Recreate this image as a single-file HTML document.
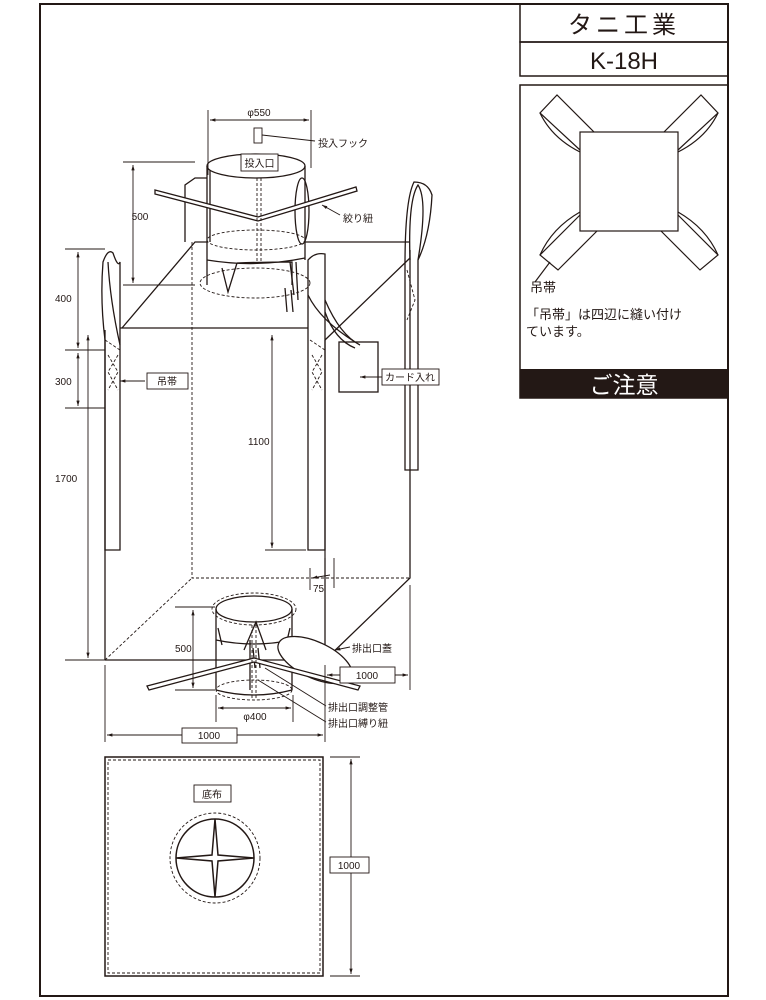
<!DOCTYPE html>
<html><head><meta charset="utf-8"><style>
html,body{margin:0;padding:0;background:#fff}
svg{display:block}
text{font-family:"Liberation Sans","Noto Sans CJK JP",sans-serif;fill:#231815}
</style></head><body>
<svg width="766" height="1000" viewBox="0 0 766 1000" xmlns="http://www.w3.org/2000/svg">
<defs>
<marker id="a" viewBox="0 0 10 10" refX="10" refY="5" markerWidth="6" markerHeight="6" orient="auto-start-reverse"><path d="M0,2L10,5L0,8z" fill="#231815"/></marker>
</defs>
<g fill="none" stroke="#231815" stroke-width="1">
<rect x="40" y="4" width="688" height="992" stroke-width="2"/>
<rect x="520" y="4" width="208" height="38" stroke-width="1.5"/>
<rect x="520" y="42" width="208" height="34" stroke-width="1.5"/>
<rect x="520" y="85" width="208" height="313" stroke-width="1.5"/>
</g>
<rect x="520" y="369" width="208" height="29" fill="#231815"/>
<text x="624" y="33" font-size="24" text-anchor="middle" letter-spacing="4">タニ工業</text>
<text x="624" y="69" font-size="24" text-anchor="middle">K-18H</text>
<text x="624" y="393" font-size="23" text-anchor="middle" style="fill:#fff">ご注意</text>
<text x="530" y="292" font-size="13">吊帯</text>
<text x="526" y="319" font-size="13">「吊帯」は四辺に縫い付け</text>
<text x="526" y="336" font-size="13">ています。</text>
<g fill="none" stroke="#231815" stroke-width="1.2">
<rect x="580" y="132" width="98" height="99"/>
<path d="M594,132 L557,95 L540,113 L580,150"/>
<path d="M540,113 Q552,138 580,152"/>
<path d="M664,132 L701,95 L718,113 L678,150"/>
<path d="M718,113 Q706,138 678,152"/>
<path d="M597,231 L558,270 L540,255 L580,215"/>
<path d="M540,255 Q552,228 580,212"/>
<path d="M661,231 L700,270 L718,255 L678,215"/>
<path d="M718,255 Q706,228 678,212"/>
<path d="M550,262 L535,282"/>
</g>

<g fill="none" stroke="#231815" stroke-width="1.3">
<path d="M105,660 L325,660"/>
<path d="M120,328 L308,328"/>
<path d="M105,330 L105,660"/>
<path d="M325,558 L325,660"/>
<path d="M122,328 L195,242 L208,242"/>
<path d="M305,242 L410,242"/>
<path d="M325,340 L410,258"/>
<path d="M410,250 L410,578 L325,660"/>
<path d="M105,550 L105,340 Q100,300 103,262 Q108,248 113,253 Q118,268 120,262 L120,550 Z"/>
<path d="M108,262 Q110,300 120,345"/>
<path d="M308,550 L308,260 Q315,252 325,254 L325,550 Z"/>
<path d="M405,470 L405,265 Q405,200 414,182 Q428,182 432,195 Q430,235 418,260 L418,470 Z"/>
<path d="M410,260 Q408,200 418,185 Q428,200 418,260"/>
<rect x="339" y="342" width="39" height="50"/>
<path d="M325,300 Q340,335 360,345"/>
<path d="M325,312 Q335,340 355,348"/>
<path d="M308,295 Q320,320 355,342"/>
<ellipse cx="256" cy="166" rx="49" ry="12"/>
<path d="M207,166 L207,285 M305,166 L305,260"/>
<path d="M210,170 L210,242"/>
<path d="M185,242 L185,185 L195,178 L207,178"/>
<ellipse cx="302" cy="211" rx="7" ry="33"/>
<path d="M207,260 Q256,268 305,258"/>
<path d="M222,268 L228,292 L237,263"/>
<path d="M237,263 Q265,262 292,262 L292,285"/>
<path d="M290,262 L294,295 M296,262 L298,300 M285,288 L287,312 M291,290 L293,312"/>
<path d="M155,190 L258,217 L356,187 L357,191 L258,221 L155,194 Z" fill="#fff"/>
<ellipse cx="254" cy="609" rx="38" ry="13"/>
<path d="M216,609 L216,690 M292,609 L292,690"/>
<path d="M216,640 Q254,648 292,640"/>
<path d="M218,628 L222,645 M290,628 L286,645"/>
<path d="M244,650 L256,622 L266,650"/>
<path d="M250,640 L250,690 M253,648 L255,668 M258,648 L260,668"/>
<path d="M216,690 Q254,700 292,690"/>
<ellipse cx="315" cy="660" rx="40" ry="18" transform="rotate(25 315 660)" fill="#fff"/>
<path d="M147,686 L254,658 L360,686 L358,690 L254,662 L149,690 Z" fill="#fff"/>
<rect x="105" y="757" width="218" height="219" stroke-width="1.5"/>
<circle cx="215" cy="858" r="39" stroke-width="1.5"/>
<path d="M215,819 L218,855 L254,858 L218,861 L215,897 L212,861 L176,858 L212,855 Z" stroke-width="1.5"/>
</g>
<g fill="none" stroke="#231815" stroke-width="0.9" stroke-dasharray="3,2">
<path d="M192,242 L192,578 L410,578"/>
<path d="M105,660 L192,578"/>
<path d="M325,340 L325,558" stroke-dasharray="none" stroke-width="1.2"/>
<path d="M257,178 L257,262 M261,178 L261,262"/>
<ellipse cx="256" cy="240" rx="49" ry="10"/>
<ellipse cx="255" cy="283" rx="55" ry="15"/>
<ellipse cx="254" cy="609" rx="42" ry="16"/>
<ellipse cx="254" cy="690" rx="38" ry="10"/>
<path d="M252,625 L252,700 M256,625 L256,700"/>
<rect x="108" y="760" width="212" height="213"/>
<circle cx="215" cy="858" r="45"/>
<path d="M108,355 L118,372 L108,390 M118,355 L108,372 L118,390"/>
<path d="M312,355 L322,372 L312,390 M322,355 L312,372 L322,390"/>
<path d="M407,270 L415,300 L407,320"/>
<path d="M105,340 L120,350 M310,340 L325,350"/>
</g>

<g fill="none" stroke="#231815" stroke-width="0.9">
<path d="M65,249 L105,249 M65,350 L105,350 M65,408 L105,408 M65,660 L105,660"/>
<path d="M78,252 L78,348" marker-start="url(#a)" marker-end="url(#a)"/>
<path d="M78,353 L78,406" marker-start="url(#a)" marker-end="url(#a)"/>
<path d="M88,335 L88,658" marker-start="url(#a)" marker-end="url(#a)"/>
<path d="M123,162 L195,162 M123,285 L195,285"/>
<path d="M133,165 L133,283" marker-start="url(#a)" marker-end="url(#a)"/>
<path d="M272,335 L272,548" marker-start="url(#a)" marker-end="url(#a)"/>
<path d="M265,550 L306,550"/>
<path d="M208,110 L208,175 M311,110 L311,168"/>
<path d="M210,120 L309,120" marker-start="url(#a)" marker-end="url(#a)"/>
<rect x="254" y="128" width="8" height="15"/>
<path d="M262,135 L315,141"/>
<path d="M310,568 L310,590 M334,558 L334,588"/>
<path d="M330,575 L312,578" marker-end="url(#a)"/>
<path d="M175,607 L215,607 M175,690 L215,690"/>
<path d="M193,610 L193,688" marker-start="url(#a)" marker-end="url(#a)"/>
<path d="M216,695 L216,722 M293,695 L293,722"/>
<path d="M218,708 L291,708" marker-start="url(#a)" marker-end="url(#a)"/>
<path d="M105,665 L105,742 M325,665 L325,742"/>
<path d="M107,735 L323,735" marker-start="url(#a)" marker-end="url(#a)"/>
<path d="M410,585 L410,690"/>
<path d="M327,675 L408,675" marker-start="url(#a)" marker-end="url(#a)"/>
<path d="M330,757 L360,757 M330,976 L360,976"/>
<path d="M351,759 L351,974" marker-start="url(#a)" marker-end="url(#a)"/>
<path d="M322,205 L340,215" marker-start="url(#a)"/>
<path d="M120,381 L145,381" marker-start="url(#a)"/>
<path d="M360,377 L382,377" marker-start="url(#a)"/>
<path d="M335,650 L350,647" marker-start="url(#a)"/>
<path d="M265,668 L326,706 M258,680 L326,722"/>
</g>
<g fill="#fff" stroke="#231815" stroke-width="0.9">
<rect x="241" y="154" width="37" height="17"/>
<rect x="147" y="373" width="41" height="16"/>
<rect x="382" y="369" width="57" height="16"/>
<rect x="340" y="667" width="55" height="16"/>
<rect x="182" y="728" width="55" height="15"/>
<rect x="194" y="785" width="37" height="17"/>
<rect x="330" y="857" width="39" height="16"/>
</g>
<g font-size="10">
<text x="259" y="116" text-anchor="middle">φ550</text>
<text x="318" y="147">投入フック</text>
<text x="259.5" y="167" text-anchor="middle">投入口</text>
<text x="343" y="222">絞り紐</text>
<text x="140" y="220" text-anchor="middle">500</text>
<text x="55" y="302">400</text>
<text x="55" y="385">300</text>
<text x="55" y="482">1700</text>
<text x="167" y="385" text-anchor="middle">吊帯</text>
<text x="410" y="381" text-anchor="middle">カード入れ</text>
<text x="248" y="445">1100</text>
<text x="313" y="592">75</text>
<text x="175" y="652">500</text>
<text x="352" y="652">排出口蓋</text>
<text x="367" y="679" text-anchor="middle">1000</text>
<text x="328" y="711">排出口調整管</text>
<text x="328" y="727">排出口縛り紐</text>
<text x="255" y="720" text-anchor="middle">φ400</text>
<text x="209" y="739" text-anchor="middle">1000</text>
<text x="212" y="798" text-anchor="middle">底布</text>
<text x="349" y="869" text-anchor="middle">1000</text>
</g>
</svg>
</body></html>
